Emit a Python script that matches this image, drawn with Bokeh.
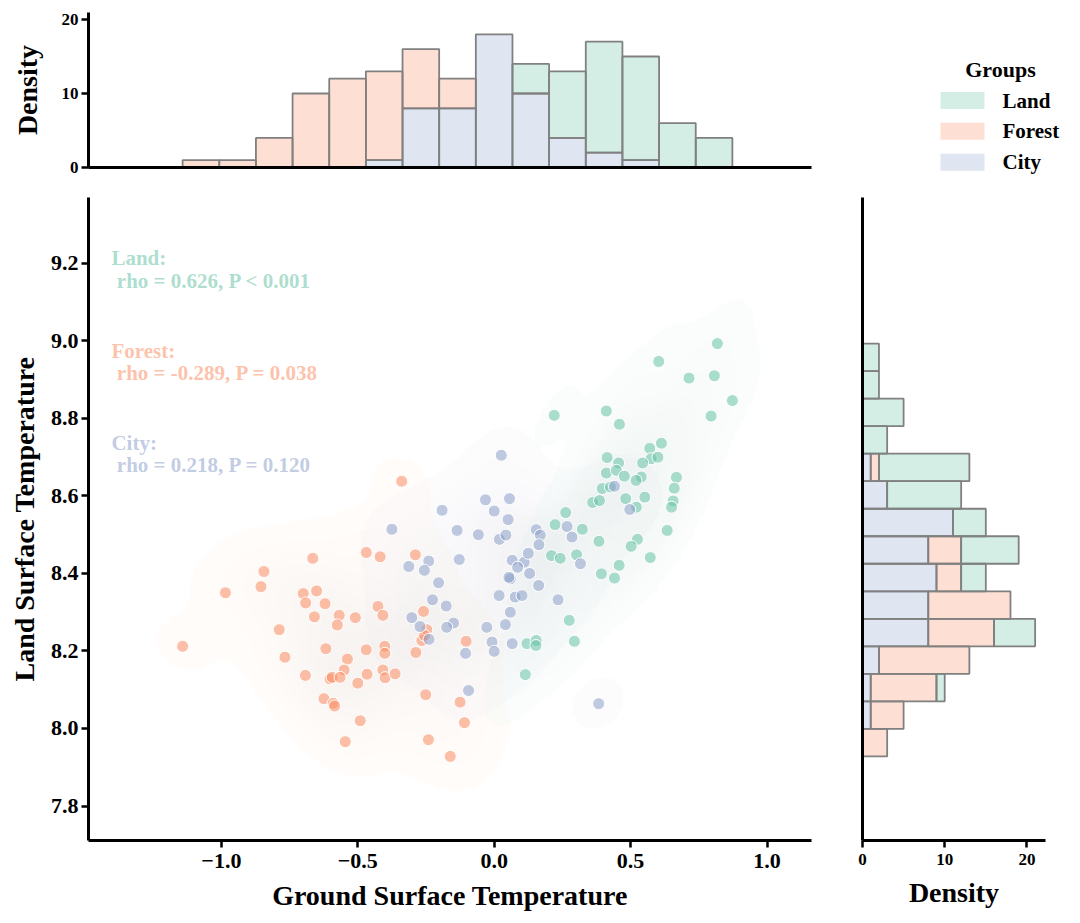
import numpy as np
from bokeh.plotting import figure
from bokeh.layouts import column, row
from bokeh.models import Range1d, FixedTicker, Label, CustomJSTickFormatter
from bokeh.core.properties import value
from bokeh.embed import file_html
from bokeh.resources import INLINE

# ---- data ----
groups = ["Land", "Forest", "City"]
colors = ["#66c2a5", "#fc8d62", "#8da0cb"]
stats = ["rho = 0.626, P < 0.001", "rho = -0.289, P = 0.038", "rho = 0.218, P = 0.120"]

land_x = [0.818, 0.603, 0.714, 0.807, 0.873, 0.795, 0.220, 0.411, 0.459, 0.613, 0.570, 0.575, 0.414,
          0.456, 0.544, 0.411, 0.448, 0.477, 0.539, 0.668, 0.396, 0.426, 0.361, 0.386, 0.482, 0.552,
          0.521, 0.656, 0.650, 0.262, 0.223, 0.323, 0.634, 0.384, 0.525, 0.502, 0.572, 0.210, 0.242,
          0.302, 0.458, 0.393, 0.441, 0.275, 0.294, 0.120, 0.154, 0.153, 0.114, 0.600, 0.520, 0.660]
land_y = [8.993, 8.947, 8.904, 8.910, 8.846, 8.806, 8.808, 8.819, 8.785, 8.736, 8.723, 8.696, 8.699,
          8.685, 8.685, 8.659, 8.666, 8.651, 8.649, 8.648, 8.619, 8.623, 8.583, 8.588, 8.593, 8.597,
          8.571, 8.587, 8.571, 8.557, 8.526, 8.514, 8.511, 8.483, 8.488, 8.470, 8.441, 8.446, 8.439,
          8.448, 8.421, 8.399, 8.388, 8.279, 8.225, 8.219, 8.227, 8.214, 8.139, 8.700, 8.640, 8.620]

forest_x = [-0.339, -0.665, -0.469, -0.418, -0.289, -0.844, -0.855, -0.985, -0.700, -0.651, -0.691,
            -0.620, -0.659, -0.568, -0.575, -0.509, -0.426, -0.408, -0.259, -0.247, -0.265, -0.287,
            -0.788, -1.142, -0.767, -0.617, -0.538, -0.469, -0.401, -0.401, -0.550, -0.692, -0.602,
            -0.594, -0.565, -0.500, -0.466, -0.408, -0.400, -0.363, -0.624, -0.590, -0.251, -0.491,
            -0.546, -0.241, -0.161, -0.103, -0.125, -0.109, -0.585, -0.255]
forest_y = [8.638, 8.439, 8.454, 8.443, 8.448, 8.405, 8.366, 8.350, 8.348, 8.355, 8.324, 8.322, 8.288,
            8.292, 8.267, 8.286, 8.315, 8.292, 8.302, 8.255, 8.227, 8.196, 8.255, 8.212, 8.184, 8.206,
            8.179, 8.203, 8.212, 8.194, 8.151, 8.137, 8.128, 8.132, 8.132, 8.117, 8.140, 8.151, 8.131,
            8.141, 8.077, 8.065, 8.087, 8.020, 7.966, 7.971, 7.928, 8.225, 8.068, 8.015, 8.058, 8.240]

city_x = [0.026, -0.032, 0.056, 0.000, -0.191, 0.051, -0.375, -0.136, -0.058, 0.019, 0.043, 0.154,
          0.169, 0.164, 0.267, 0.285, 0.316, 0.441, -0.240, -0.313, -0.256, -0.128, 0.066, 0.110,
          0.125, 0.086, -0.204, 0.059, 0.054, 0.163, 0.018, 0.077, 0.102, 0.234, -0.226, -0.176,
          -0.302, -0.272, -0.149, -0.174, -0.239, 0.059, -0.027, 0.041, -0.008, 0.000, 0.066,
          -0.105, -0.094, 0.383, 0.497, 0.130]
city_y = [8.705, 8.590, 8.593, 8.561, 8.563, 8.539, 8.514, 8.511, 8.500, 8.488, 8.499, 8.513, 8.499,
          8.474, 8.521, 8.494, 8.425, 8.625, 8.432, 8.418, 8.408, 8.436, 8.434, 8.429, 8.452, 8.416,
          8.376, 8.386, 8.390, 8.369, 8.343, 8.339, 8.343, 8.332, 8.332, 8.316, 8.286, 8.263, 8.272,
          8.261, 8.230, 8.300, 8.261, 8.268, 8.223, 8.199, 8.219, 8.194, 8.098, 8.064, 8.565, 8.400]

# marginal histogram counts (15 bins, left->right and bottom->top)
top_land = [0, 0, 0, 0, 0, 0, 0, 0, 0, 4, 9, 15, 14, 6, 4]
top_forest = [1, 1, 4, 10, 12, 12, 8, 4, 0, 0, 0, 0, 0, 0, 0]
top_city = [0, 0, 0, 0, 0, 1, 8, 8, 18, 10, 4, 2, 1, 0, 0]
right_land = [0, 0, 1, 0, 5, 0, 3, 7, 4, 9, 11, 3, 5, 2, 2]
right_forest = [3, 4, 8, 11, 8, 10, 3, 4, 0, 0, 1, 0, 0, 0, 0]
right_city = [0, 1, 1, 2, 8, 8, 9, 8, 11, 3, 1, 0, 0, 0, 0]

x_ticks = [-1.0, -0.5, 0.0, 0.5, 1.0]
y_ticks = [7.8, 8.0, 8.2, 8.4, 8.6, 8.8, 9.0, 9.2]
density_ticks = [0, 10, 20]

FONT = "Liberation Serif"
HIST_ALPHA = 0.28
X_LO, X_HI = -1.487, 1.163
Y_LO, Y_HI = 7.711, 9.370

fmt = CustomJSTickFormatter(code="return tick.toFixed(1).replace('-', '\u2212')")


def style_axis(ax, tick_size="22px", ticks=True):
    ax.axis_line_width = 3
    ax.axis_line_color = "black"
    ax.major_tick_line_width = 2.5
    ax.major_tick_line_color = "black"
    ax.major_tick_out = 7
    ax.major_tick_in = 0
    ax.minor_tick_line_color = None
    ax.major_label_standoff = 6
    ax.major_label_text_font = FONT
    ax.major_label_text_font_style = "bold"
    ax.major_label_text_font_size = tick_size
    ax.major_label_text_color = "black"
    ax.axis_label_text_font = FONT
    ax.axis_label_text_font_style = "bold"
    ax.axis_label_text_font_size = "28px"
    ax.axis_label_text_color = "black"
    ax.axis_label_standoff = 9
    if not ticks:
        ax.ticker = FixedTicker(ticks=[])


def make_fig(**kw):
    p = figure(toolbar_location=None, output_backend="svg", **kw)
    p.outline_line_color = None
    p.grid.visible = False
    return p


def kde_rgba(xs, ys, color, nx=300, ny=270, alpha=0.07):
    pts = np.vstack([xs, ys])
    n = pts.shape[1]
    cov = np.cov(pts) * n ** (-1.0 / 3.0)
    inv = np.linalg.inv(cov)
    gx = np.linspace(X_LO, X_HI, nx)
    gy = np.linspace(Y_LO, Y_HI, ny)
    X, Y = np.meshgrid(gx, gy)
    z = np.zeros_like(X)
    for px, py in zip(xs, ys):
        dx = X - px
        dy = Y - py
        z += np.exp(-0.5 * (inv[0, 0] * dx * dx + 2 * inv[0, 1] * dx * dy + inv[1, 1] * dy * dy))
    zs = np.sort(z.ravel())
    cum = np.cumsum(zs)
    cum /= cum[-1]
    levels = np.interp(np.linspace(0.05, 1, 10), cum, zs)
    band = np.clip(np.searchsorted(levels, z, side="right") - 1, -1, 8)
    c = np.array([int(color[i:i + 2], 16) for i in (1, 3, 5)], dtype=float)
    light = c + (255 - c) * 0.55
    dark = c * 0.6
    t = np.clip(band, 0, 8)[..., None] / 8.0
    rgb = light * (1 - t) + dark * t
    img = np.zeros((ny, nx, 4), dtype=np.uint8)
    img[..., :3] = rgb.astype(np.uint8)
    img[..., 3] = np.where(band >= 0, int(255 * alpha), 0)
    return img.view(np.uint32).reshape(ny, nx)


xs_all = [land_x, forest_x, city_x]
ys_all = [land_y, forest_y, city_y]

# ---- main joint panel ----
main = make_fig(frame_width=723, frame_height=643, x_range=Range1d(X_LO, X_HI),
                y_range=Range1d(Y_LO, Y_HI), min_border_left=88, min_border_right=20,
                min_border_top=0, min_border_bottom=74)
for xs, ys, col in zip(xs_all, ys_all, colors):
    main.image_rgba(image=[kde_rgba(xs, ys, col)], x=X_LO, y=Y_LO, dw=X_HI - X_LO, dh=Y_HI - Y_LO)
for xs, ys, col in zip(xs_all, ys_all, colors):
    main.scatter(xs, ys, size=12, fill_color=col, fill_alpha=0.55, line_color="white", line_width=1)

main.xaxis.ticker = FixedTicker(ticks=x_ticks)
main.yaxis.ticker = FixedTicker(ticks=y_ticks)
main.xaxis.formatter = fmt
main.yaxis.formatter = fmt
main.xaxis.axis_label = "Ground Surface Temperature"
main.yaxis.axis_label = "Land Surface Temperature"
style_axis(main.xaxis)
style_axis(main.yaxis)
main.yaxis.major_label_standoff = 3
main.yaxis.axis_label_standoff = 8

ann_y = [(9.213, 9.155), (8.975, 8.917), (8.736, 8.679)]
for g, s, col, (y1, y2) in zip(groups, stats, colors, ann_y):
    for txt, xx, yy in ((g + ":", -1.403, y1), (s, -1.383, y2)):
        main.add_layout(Label(x=xx, y=yy, text=txt, text_font=FONT, text_font_style="bold",
                              text_font_size="21px", text_color=col, text_alpha=0.55,
                              text_baseline="middle"))

# ---- top marginal histogram ----
all_x = np.concatenate(xs_all)
all_y = np.concatenate(ys_all)
x_edges = np.linspace(all_x.min(), all_x.max(), 16)
y_edges = np.linspace(all_y.min(), all_y.max(), 16)

top = make_fig(frame_width=723, frame_height=155, x_range=main.x_range, y_range=Range1d(0, 20.95),
               min_border_left=88, min_border_right=20, min_border_top=12, min_border_bottom=30)
base = np.zeros(15)
for counts, col in ((top_city, colors[2]), (top_forest, colors[1]), (top_land, colors[0])):
    cnt = np.array(counts, dtype=float)
    m = cnt > 0
    top.quad(left=x_edges[:-1][m], right=x_edges[1:][m], bottom=base[m], top=(base + cnt)[m],
             fill_color=col, fill_alpha=HIST_ALPHA, line_color="#808080", line_width=1.8)
    base = base + cnt
top.yaxis.ticker = FixedTicker(ticks=density_ticks)
top.yaxis.axis_label = "Density"
style_axis(top.yaxis, tick_size="17px")
top.yaxis.major_label_standoff = 3
top.yaxis.axis_label_standoff = 16
style_axis(top.xaxis, ticks=False)

# ---- legend panel next to the top histogram (1 data unit = 1 px) ----
LEG_W, LEG_H = 241, 185
leg = make_fig(frame_width=LEG_W, frame_height=LEG_H, x_range=Range1d(0, LEG_W),
               y_range=Range1d(0, LEG_H), min_border_left=0, min_border_right=0,
               min_border_top=12, min_border_bottom=0, x_axis_location=None, y_axis_location=None)
row_y = [97, 66.3, 35.3]
leg.quad(left=[109] * 3, right=[153] * 3, bottom=[y - 8.5 for y in row_y],
         top=[y + 8.5 for y in row_y], fill_color=colors, fill_alpha=HIST_ALPHA, line_alpha=0)
leg.text(x=[171] * 3, y=row_y, text=groups, text_font=value(FONT), text_font_style="bold",
         text_font_size="21px", text_baseline="middle", text_color="black")
leg.text(x=[169], y=[127.7], text=["Groups"], text_font=value(FONT), text_font_style="bold",
         text_font_size="22px", text_align="center", text_baseline="middle", text_color="black")

# ---- right marginal histogram ----
right = make_fig(frame_width=183, frame_height=643, x_range=Range1d(0, 22.26), y_range=main.y_range,
                 min_border_left=31, min_border_right=8, min_border_top=0, min_border_bottom=74)
base = np.zeros(15)
for counts, col in ((right_city, colors[2]), (right_forest, colors[1]), (right_land, colors[0])):
    cnt = np.array(counts, dtype=float)
    m = cnt > 0
    right.quad(bottom=y_edges[:-1][m], top=y_edges[1:][m], left=base[m], right=(base + cnt)[m],
               fill_color=col, fill_alpha=HIST_ALPHA, line_color="#808080", line_width=1.8)
    base = base + cnt
right.xaxis.ticker = FixedTicker(ticks=density_ticks)
right.xaxis.axis_label = "Density"
style_axis(right.xaxis, tick_size="17px")
style_axis(right.yaxis, ticks=False)

p = column(row(top, leg, spacing=0), row(main, right, spacing=0), spacing=0)

open("out.html", "w").write(file_html(p, INLINE))
